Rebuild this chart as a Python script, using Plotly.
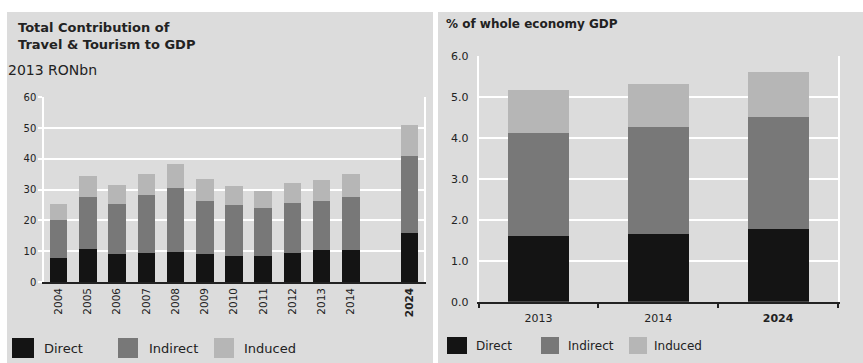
import plotly.graph_objects as go

# ---------------- data ----------------
left_categories = ["2004", "2005", "2006", "2007", "2008", "2009", "2010",
                   "2011", "2012", "2013", "2014", " ", "2024"]
left_ticktext = ["2004", "2005", "2006", "2007", "2008", "2009", "2010",
                 "2011", "2012", "2013", "2014", "", "<b>2024</b>"]
left_direct = [7.9, 10.8, 9.0, 9.3, 9.8, 9.0, 8.3, 8.3, 9.3, 10.3, 10.3, None, 15.8]
left_indirect = [12.1, 17.0, 16.4, 19.0, 20.9, 17.5, 16.6, 15.7, 16.5, 16.2, 17.5, None, 25.1]
left_induced = [5.4, 6.7, 6.3, 6.7, 7.8, 7.1, 6.2, 5.7, 6.4, 6.7, 7.2, None, 10.2]

right_categories = ["2013", "2014", "2024"]
right_ticktext = ["2013", "2014", "<b>2024</b>"]
right_direct = [1.61, 1.65, 1.77]
right_indirect = [2.52, 2.62, 2.75]
right_induced = [1.05, 1.05, 1.11]

series_names = ["Direct", "Indirect", "Induced"]
series_colors = ["#141414", "#787878", "#b6b6b6"]

left_title = "Total Contribution of<br>Travel & Tourism to GDP"
left_unit = "2013 RONbn"
right_title = "% of whole economy GDP"

# ---------------- layout helpers ----------------
W, H = 863, 363
PANEL = "#dcdcdc"
FONT = "DejaVu Sans"
TXT = "#222222"


def px(x):
    return x / W


def py(y):
    return 1 - y / H


fig = go.Figure()

for name, color, vals in zip(series_names, series_colors,
                             [left_direct, left_indirect, left_induced]):
    fig.add_trace(go.Bar(x=left_categories, y=vals, name=name,
                         marker=dict(color=color, line=dict(width=0)),
                         xaxis="x", yaxis="y", showlegend=False))

for name, color, vals in zip(series_names, series_colors,
                             [right_direct, right_indirect, right_induced]):
    fig.add_trace(go.Bar(x=right_categories, y=vals, name=name, width=0.51,
                         marker=dict(color=color, line=dict(width=0)),
                         xaxis="x2", yaxis="y2", showlegend=False))

shapes = [
    dict(type="rect", xref="paper", yref="paper", x0=px(7), x1=px(433),
         y0=py(363), y1=py(12), fillcolor=PANEL, line=dict(width=0), layer="below"),
    dict(type="rect", xref="paper", yref="paper", x0=px(438), x1=px(863),
         y0=py(363), y1=py(12), fillcolor=PANEL, line=dict(width=0), layer="below"),
]

annotations = [
    dict(text="<b>" + left_title + "</b>", xref="paper", yref="paper",
         x=px(16), y=py(36), xanchor="left", yanchor="middle", align="left",
         showarrow=False, font=dict(family=FONT, size=13, color=TXT)),
    dict(text=left_unit, xref="paper", yref="paper",
         x=px(6), y=py(69.5), xanchor="left", yanchor="middle",
         showarrow=False, font=dict(family=FONT, size=14, color=TXT)),
    dict(text="<b>" + right_title + "</b>", xref="paper", yref="paper",
         x=px(444), y=py(24), xanchor="left", yanchor="middle",
         showarrow=False, font=dict(family=FONT, size=12, color=TXT)),
]

# legends (drawn as swatches + labels)
left_leg = [(12, 34, 42), (118, 138, 147), (214, 234, 242)]
right_leg = [(447, 467, 474), (541, 559, 566), (629, 647, 652)]
for (x0, x1, tx), name, color in zip(left_leg, series_names, series_colors):
    shapes.append(dict(type="rect", xref="paper", yref="paper", x0=px(x0), x1=px(x1),
                       y0=py(358), y1=py(338), fillcolor=color, line=dict(width=0)))
    annotations.append(dict(text=name, xref="paper", yref="paper", x=px(tx), y=py(348),
                            xanchor="left", yanchor="middle", showarrow=False,
                            font=dict(family=FONT, size=13, color=TXT)))
for (x0, x1, tx), name, color in zip(right_leg, series_names, series_colors):
    shapes.append(dict(type="rect", xref="paper", yref="paper", x0=px(x0), x1=px(x1),
                       y0=py(354), y1=py(337), fillcolor=color, line=dict(width=0)))
    annotations.append(dict(text=name, xref="paper", yref="paper", x=px(tx), y=py(346),
                            xanchor="left", yanchor="middle", showarrow=False,
                            font=dict(family=FONT, size=12, color=TXT)))

fig.update_layout(
    width=W, height=H,
    margin=dict(l=0, r=0, t=0, b=0, autoexpand=False),
    paper_bgcolor="white",
    plot_bgcolor="rgba(0,0,0,0)",
    barmode="stack",
    bargap=0.4,
    shapes=shapes,
    annotations=annotations,
    xaxis=dict(domain=[px(44), px(424)], type="category",
               categoryorder="array", categoryarray=left_categories,
               tickmode="array", tickvals=left_categories, ticktext=left_ticktext,
               tickangle=-90, tickfont=dict(family=FONT, size=10.5, color=TXT),
               showline=True, linecolor="#222222", linewidth=1.5,
               showgrid=False, ticks="", anchor="y", automargin=False),
    yaxis=dict(domain=[py(282), py(97)], range=[0, 60.15],
               tickmode="array", tickvals=[0, 10, 20, 30, 40, 50, 60],
               showgrid=True, gridcolor="white", gridwidth=1.5,
               showline=True, linecolor="white", linewidth=1.5, mirror=True,
               zeroline=False, ticks="outside", ticklen=4, tickcolor="white",
               tickwidth=1.5, tickfont=dict(family=FONT, size=10, color=TXT),
               anchor="x", automargin=False),
    xaxis2=dict(domain=[px(478.5), px(838)], type="category",
                categoryorder="array", categoryarray=right_categories,
                tickmode="array", tickvals=right_categories, ticktext=right_ticktext,
                tickson="boundaries", ticks="outside", ticklen=5,
                tickcolor="#222222", tickwidth=1.5, ticklabelstandoff=5,
                tickfont=dict(family=FONT, size=11, color=TXT),
                showline=True, linecolor="#222222", linewidth=1.5,
                showgrid=False, anchor="y2", automargin=False),
    yaxis2=dict(domain=[py(301.7), py(55.7)], range=[0, 6.02],
                tickmode="array", tickvals=[0, 1, 2, 3, 4, 5, 6],
                tickformat=".1f",
                showgrid=True, gridcolor="white", gridwidth=1.5,
                showline=True, linecolor="white", linewidth=1.5, mirror=True,
                zeroline=False, ticks="outside", ticklen=6,
                tickcolor="rgba(0,0,0,0)",
                tickfont=dict(family=FONT, size=11, color=TXT),
                anchor="x2", automargin=False),
)

fig.write_html(
    "out.html",
    config={"displayModeBar": False},
    post_script="document.body.style.margin='0';document.body.style.padding='0';"
                "document.body.style.overflow='hidden';",
)
